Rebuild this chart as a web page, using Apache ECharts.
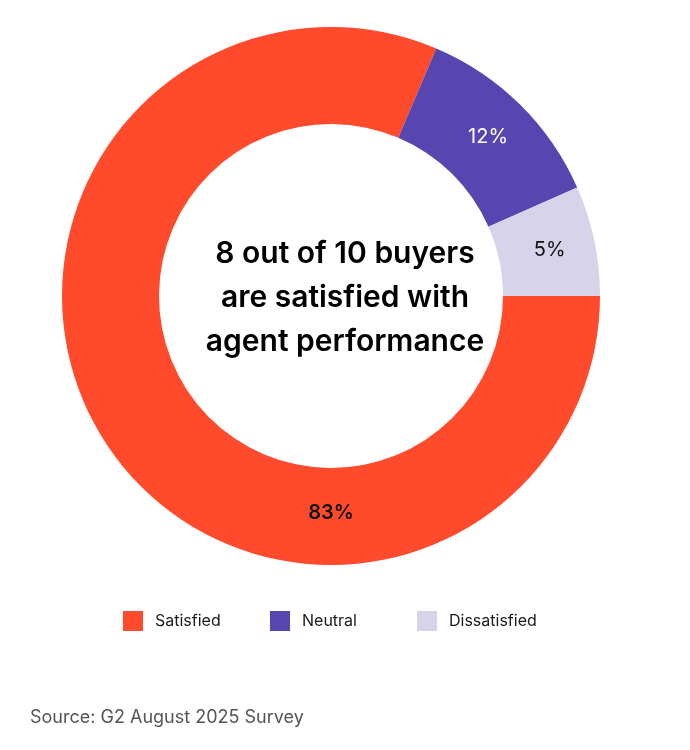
<!DOCTYPE html>
<html lang="en">
<head>
    <meta charset="UTF-8"/>
    <title>Buyer satisfaction</title>
    <script src="https://cdn.jsdelivr.net/npm/echarts@6/dist/echarts.min.js"></script>
    <style>
        html, body { margin: 0; padding: 0; background: #fff; }
    </style>
</head>
<body>
<div id="main" style="width: 690px;height:750px;"></div>
<script type="text/javascript">
    // data
    var categories = ['Satisfied', 'Neutral', 'Dissatisfied'];
    var sliceValues = [81.4, 12, 6.6];          // slice sizes as drawn
    var pctLabels = ['83%', '12%', '5%'];        // label text as printed
    var colors = ['#FF4A2C', '#5746AF', '#D6D3EB'];
    var labelColors = ['#111111', '#ffffff', '#111111'];
    var legendLefts = [123, 270, 417];

    var cx = 331, cy = 296, rIn = 172, rOut = 269;

    var myChart = echarts.init(document.getElementById('main'));

    var data = categories.map(function (name, i) {
        return {
            name: name,
            value: sliceValues[i],
            itemStyle: { color: colors[i] },
            label: {
                color: labelColors[i],
                fontWeight: i === 0 ? 600 : 400,
                fontSize: 20
            }
        };
    });

    // one legend per item so the items sit at fixed spacing
    var legends = categories.map(function (name, i) {
        return {
            top: 611,
            left: legendLefts[i],
            itemWidth: 20,
            itemHeight: 20,
            icon: 'rect',
            selectedMode: false,
            padding: 0,
            data: [name],
            textStyle: {
                fontFamily: 'Inter',
                fontSize: 16,
                color: '#1a1a1a',
                padding: [0, 0, 0, 7]
            }
        };
    });

    var option = {
        animation: false,
        textStyle: { fontFamily: 'Inter' },
        legend: legends,
        graphic: [
            {
                type: 'text',
                left: 'center',
                top: cy - 64,
                style: {
                    text: '8 out of 10 buyers\nare satisfied with\nagent performance',
                    font: '600 30px Inter',
                    fill: '#000',
                    textAlign: 'center',
                    lineHeight: 44
                }
            },
            {
                type: 'text',
                left: 30,
                top: 709,
                style: {
                    text: 'Source: G2 August 2025 Survey',
                    font: '18px Inter',
                    fill: '#555555'
                }
            }
        ],
        series: [
            {
                type: 'pie',
                center: [cx, cy],
                radius: [rIn, rOut],
                startAngle: 0,
                clockwise: true,
                silent: true,
                label: {
                    show: true,
                    position: 'inside',
                    fontFamily: 'Inter',
                    formatter: function (p) { return pctLabels[p.dataIndex]; }
                },
                labelLine: { show: false },
                labelLayout: function (params) {
                    // the big slice has its label at the bottom of the ring
                    if (params.dataIndex === 0) {
                        return {
                            x: cx,
                            y: cy + (rIn + rOut) / 2 - 4,
                            align: 'center',
                            verticalAlign: 'middle'
                        };
                    }
                },
                data: data
            }
        ]
    };
    myChart.setOption(option);
</script>
</body>
</html>
